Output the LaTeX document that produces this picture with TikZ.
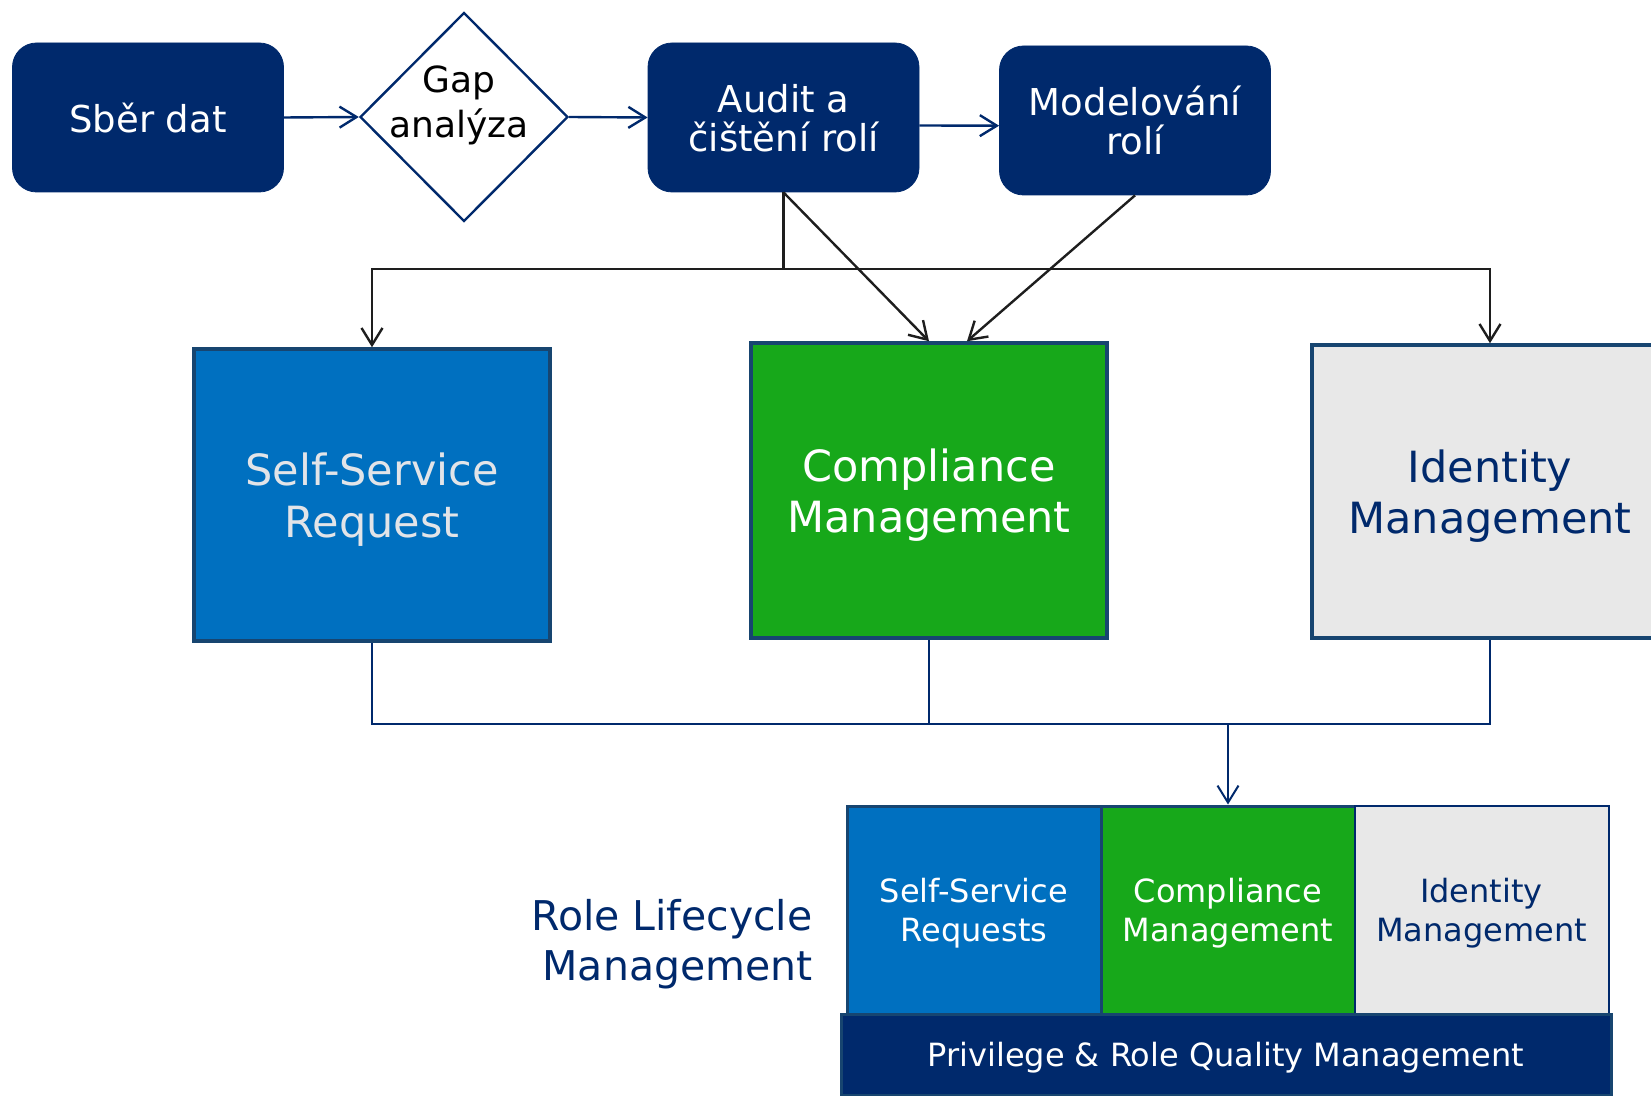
\documentclass[tikz,border=0pt]{standalone}
\usepackage{fontspec}
\setmainfont{DejaVu Sans}
\usetikzlibrary{shapes.geometric,arrows.meta}
\definecolor{navy}{RGB}{0,41,108}
\definecolor{ssblue}{RGB}{0,112,192}
\definecolor{cmgreen}{RGB}{23,168,26}
\definecolor{imgray}{RGB}{232,232,232}
\definecolor{edge}{RGB}{23,69,112}
\definecolor{pale}{RGB}{226,228,232}
\definecolor{ink}{RGB}{30,30,30}
\begin{document}
\begin{tikzpicture}[x=0.5pt,y=-0.5pt,
    >={Straight Barb[length=8.5pt,width=10.5pt]},
    flowbox/.style={fill=navy,draw=navy,rounded corners=12pt,text=white,
      minimum width=135.5pt,minimum height=74.5pt,inner sep=0pt,align=center,
      font=\fontsize{18.5}{19.5}\selectfont,text depth=0pt},
    bigbox/.style={draw=edge,line width=1.75pt,minimum width=178pt,
      minimum height=146.5pt,inner sep=0pt,align=center,
      font=\fontsize{21.5}{25.8}\selectfont,text depth=0pt},
    smallbox/.style={draw=edge,line width=1.5pt,minimum width=127pt,
      minimum height=104pt,inner sep=0pt,align=center,
      font=\fontsize{16}{19.5}\selectfont,text depth=-2pt},
    flowarrow/.style={navy,line width=1.2pt,->},
    linkline/.style={ink,line width=1.2pt},
    feedline/.style={navy,line width=1pt}]
  \useasboundingbox (0,0) rectangle (1651,1096);
  \node[flowbox] (0) at (148,117.5) {Sběr dat};
  \node[diamond,draw=navy,line width=1.2pt,minimum width=104pt,
    minimum height=104.5pt,inner sep=0pt] (1) at (464,117) {};
  \node[font=\fontsize{18}{22.5}\selectfont,align=center,text depth=0pt]
    (1t) at (459,102) {Gap\\analýza};
  \node[flowbox] (2) at (783.5,117.5) {Audit a\\čištění rolí};
  \node[flowbox] (3) at (1135,120.5) {Modelování\\rolí};
  \node[bigbox,fill=ssblue,text=pale,minimum height=146pt] (4) at (372,495)
    {Self-Service\\Request};
  \node[bigbox,fill=cmgreen,text=white,minimum height=147.5pt] (5) at (929,490.5)
    {Compliance\\Management};
  \node[bigbox,fill=imgray,text=navy] (6) at (1490,491.5) {Identity\\Management};
  \node[smallbox,fill=ssblue,text=white] (7) at (974,910) {Self-Service\\Requests};
  \node[smallbox,fill=cmgreen,text=white] (8) at (1228,910) {Compliance\\Management};
  \node[smallbox,fill=imgray,text=navy,draw=navy,line width=1pt] (9) at (1481.5,910)
    {Identity\\Management};
  \node[fill=navy,draw=edge,line width=1.5pt,minimum width=385pt,minimum height=40.5pt,
    text=white,font=\fontsize{16}{19.5}\selectfont,text depth=0pt] (10) at (1226,1054.5)
    {Privilege \& Role Quality Management};
  \node[anchor=east,text=navy,align=right,inner sep=0pt,
    font=\fontsize{20.5}{24.7}\selectfont,text depth=0pt] (11) at (813,940)
    {Role Lifecycle\\Management};
  \coordinate (12) at (783.5,269);
  \coordinate (13) at (1228,724);
  \draw[flowarrow] (0.east) -- (1.west);
  \draw[flowarrow] (1.east) -- (2.west);
  \draw[flowarrow] ([yshift=-4pt]2.east) -- ([yshift=-2.6pt]3.west);
  \begin{scope}[linkline]
    \draw (2.south) -- (12);
    \draw[->] (12) -| (4.north);
    \draw[->] (12) -| (6.north);
    \draw[->] (2.south) -- (5.north);
    \draw[->] (3.south) -- ([xshift=19pt]5.north);
  \end{scope}
  \begin{scope}[feedline]
    \draw (4.south) |- (13);
    \draw (5.south) |- (13);
    \draw (6.south) |- (13);
    \draw[->] (13) -- (8.north);
  \end{scope}
\end{tikzpicture}
\end{document}
